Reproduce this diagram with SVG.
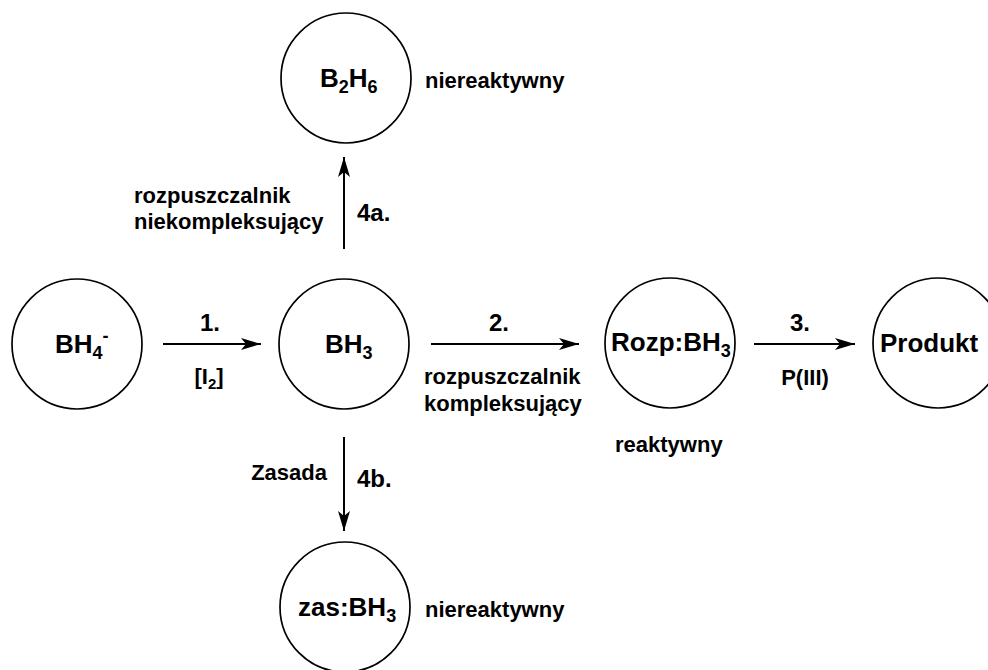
<svg xmlns="http://www.w3.org/2000/svg" width="988" height="670" viewBox="0 0 988 670">
  <defs>
    <style>
      .node { fill: #ffffff; stroke: #000000; stroke-width: 1.7; }
      .t { font-family: "Liberation Sans", Arial, sans-serif; font-weight: bold; fill: #000000; }
      .big { font-size: 26px; }
      .lab { font-size: 22px; }
      .num { font-size: 24px; }
      .sub { font-size: 18px; }
      .sub-s { font-size: 15px; }
      .edge { stroke: #000000; stroke-width: 2; fill: none; marker-end: url(#head); }
    </style>
    <marker id="head" markerUnits="userSpaceOnUse" viewBox="-20 -7 21 14" refX="0" refY="0" markerWidth="21" markerHeight="14" orient="auto">
      <path d="M0,0 L-20,-6 L-15,0 L-20,6 Z" fill="#000000"/>
    </marker>
  </defs>
  <rect width="988" height="670" fill="#ffffff"/>

  <g id="connectors">
    <line class="edge" x1="163" y1="344" x2="261" y2="344"/>
    <line class="edge" x1="431" y1="344" x2="579" y2="344"/>
    <line class="edge" x1="754" y1="344" x2="855" y2="344"/>
    <line class="edge" x1="344" y1="249" x2="344" y2="157"/>
    <line class="edge" x1="344" y1="437" x2="344" y2="531"/>
  </g>

  <g id="step-labels" class="t">
    <text class="num" x="210" y="331" text-anchor="middle">1.</text>
    <text class="lab" x="209" y="384" text-anchor="middle">[I<tspan class="sub-s" dy="5">2</tspan><tspan dy="-5">]</tspan></text>
    <text class="num" x="499" y="331" text-anchor="middle">2.</text>
    <text class="lab" x="424" y="384">rozpuszczalnik</text>
    <text class="lab" x="424" y="411">kompleksujący</text>
    <text class="num" x="800" y="331" text-anchor="middle">3.</text>
    <text class="lab" x="805" y="385" text-anchor="middle">P(III)</text>
    <text class="lab" x="134" y="203">rozpuszczalnik</text>
    <text class="lab" x="134" y="229">niekompleksujący</text>
    <text class="num" x="357" y="221">4a.</text>
    <text class="lab" x="327" y="480" text-anchor="end">Zasada</text>
    <text class="num" x="357" y="487">4b.</text>
  </g>

  <g id="node-bh4">
    <circle class="node" cx="77" cy="344" r="65"/>
    <text class="t big" x="55" y="353">BH<tspan class="sub" dy="6">4</tspan><tspan class="sub" dy="-17">-</tspan></text>
  </g>

  <g id="node-bh3">
    <circle class="node" cx="344" cy="344" r="65"/>
    <text class="t big" x="325" y="353">BH<tspan class="sub" dy="6">3</tspan></text>
  </g>

  <g id="node-b2h6">
    <circle class="node" cx="346" cy="78" r="65"/>
    <text class="t big" x="320" y="87">B<tspan class="sub" dy="6">2</tspan><tspan dy="-6">H</tspan><tspan class="sub" dy="6">6</tspan></text>
    <text class="t lab" x="425" y="88">niereaktywny</text>
  </g>

  <g id="node-rozp">
    <circle class="node" cx="670" cy="343" r="65"/>
    <text class="t big" x="611" y="351">Rozp:BH<tspan class="sub" dy="6">3</tspan></text>
    <text class="t lab" x="615" y="452">reaktywny</text>
  </g>

  <g id="node-produkt">
    <circle class="node" cx="938" cy="343" r="65"/>
    <text class="t big" x="880" y="352">Produkt</text>
  </g>

  <g id="node-zas">
    <circle class="node" cx="345" cy="607" r="65"/>
    <text class="t big" x="298" y="616">zas:BH<tspan class="sub" dy="6">3</tspan></text>
    <text class="t lab" x="425" y="617">niereaktywny</text>
  </g>
</svg>
